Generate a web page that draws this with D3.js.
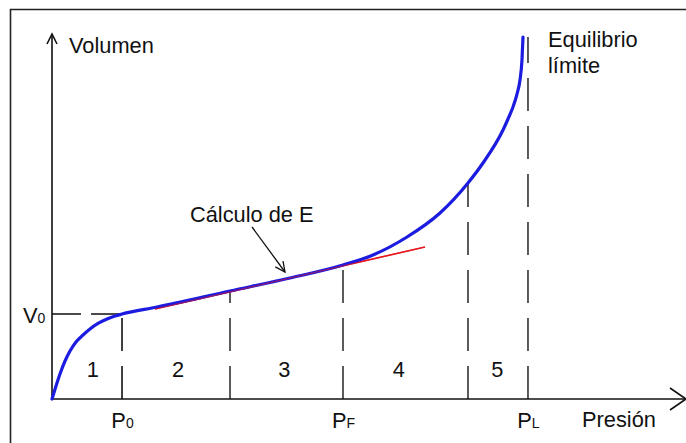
<!DOCTYPE html>
<html>
<head>
<meta charset="utf-8">
<script src="https://cdn.jsdelivr.net/npm/d3@7"></script>
<style>
  html, body { margin: 0; padding: 0; background: #fff; }
  svg { display: block; }
  text { font-family: "Liberation Sans", Arial, sans-serif; fill: #111; }
</style>
</head>
<body>
<svg id="chart" width="686" height="443"></svg>
<script>
// ---- data (abstract units: pressure 0..100, volume 0..100) ----
const curveP = [0, 0.67, 1.33, 2.17, 3.0, 4.0, 5.17, 6.33, 7.67, 9.17, 10.5, 11.67, 17.5, 29.67, 39.67, 48.5, 53.5, 59.17, 64.67, 69.33, 71.83, 75.17, 76.0, 76.83, 77.5, 78.0, 78.33, 78.5];
const curveV = [0, 3.59, 6.91, 10.50, 13.26, 15.75, 17.68, 19.34, 20.86, 22.10, 22.93, 23.48, 25.41, 29.83, 33.43, 37.02, 39.78, 44.75, 51.38, 59.67, 65.19, 74.31, 77.35, 80.66, 84.25, 88.12, 93.65, 100];
const tangentP = [17.17, 62.17];
const tangentV = [24.86, 41.99];
const boundaryP = [11.67, 29.67, 48.5, 69.33, 79.33];
const boundaryTopV = [23.48, 29.83, 37.02, 59.67, 100];
const V0 = 23.48;
const regionLabels = ["1", "2", "3", "4", "5"];
const regionLabelP = [6.8, 21, 38.7, 57.8, 74.2];
const tickP = [11.67, 48.5, 79.33];
const tickMain = ["P", "P", "P"];
const tickSub = ["0", "F", "L"];

const FS = "21.8px";
const svg = d3.select("#chart");
const x = d3.scaleLinear().domain([0, 100]).range([52, 652]);
const y = d3.scaleLinear().domain([0, 100]).range([399, 37]);

// frame
svg.append("path")
  .attr("d", "M686,9.5H10.5V443")
  .attr("fill", "none").attr("stroke", "#222").attr("stroke-width", 1.6);

// dashed verticals (drawn from bottom upward)
boundaryP.forEach((p, i) => {
  svg.append("line")
    .attr("x1", x(p)).attr("x2", x(p))
    .attr("y1", y(0)).attr("y2", y(boundaryTopV[i]))
    .attr("stroke", i === 0 ? "#111" : "#333")
    .attr("stroke-width", 1.6)
    .attr("stroke-dasharray", "33,15");
});

// dashed horizontal at V0
svg.append("line")
  .attr("x1", x(0)).attr("x2", x(boundaryP[0]))
  .attr("y1", y(V0)).attr("y2", y(V0))
  .attr("stroke", "#111").attr("stroke-width", 1.6)
  .attr("stroke-dasharray", "29,10");

// axes
svg.append("line").attr("x1", x(0)).attr("y1", y(0)).attr("x2", x(0)).attr("y2", 34)
  .attr("stroke", "#111").attr("stroke-width", 1.6);
svg.append("path").attr("d", `M${x(0)-5},44L${x(0)},34L${x(0)+5},44`)
  .attr("fill", "none").attr("stroke", "#111").attr("stroke-width", 1.6);
svg.append("line").attr("x1", x(0)).attr("y1", y(0)).attr("x2", 686).attr("y2", y(0))
  .attr("stroke", "#111").attr("stroke-width", 1.6);
svg.append("path").attr("d", `M670,${y(0)-11}L686,${y(0)}L670,${y(0)+11}`)
  .attr("fill", "none").attr("stroke", "#111").attr("stroke-width", 1.6);

// x tick labels via d3 axis
const xAxis = d3.axisBottom(x).tickValues(tickP).tickSize(0).tickFormat("");
const gx = svg.append("g").attr("transform", `translate(0,${y(0)})`).call(xAxis);
gx.select(".domain").remove();
gx.selectAll(".tick").each(function(d, i) {
  const t = d3.select(this).append("text")
    .attr("y", 29).attr("text-anchor", "middle")
    .style("font-size", FS).attr("fill", "#111")
    .style("font-family", "'Liberation Sans', Arial, sans-serif");
  t.append("tspan").text(tickMain[i]);
  t.append("tspan").style("font-size", "14px").text(tickSub[i]);
});

// y label V0
const tv = svg.append("text").attr("x", 23).attr("y", y(V0) + 9)
  .style("font-size", FS);
tv.append("tspan").text("V");
tv.append("tspan").style("font-size", "14px").text("0");

// region labels
svg.selectAll(".region").data(regionLabels).enter().append("text")
  .attr("class", "region")
  .attr("x", (d, i) => x(regionLabelP[i]))
  .attr("y", 377).attr("text-anchor", "middle")
  .style("font-size", FS).text(d => d);

// curve
const pts = curveP.map((p, i) => [p, curveV[i]]);
const line = d3.line().x(d => x(d[0])).y(d => y(d[1])).curve(d3.curveMonotoneX);

// tangent
svg.append("line")
  .attr("x1", x(tangentP[0])).attr("y1", y(tangentV[0]))
  .attr("x2", x(tangentP[1])).attr("y2", y(tangentV[1]))
  .attr("stroke", "#e8141c").attr("stroke-width", 1.6);

svg.append("path").datum(pts).attr("d", line)
  .attr("fill", "none").attr("stroke", "#1c1ce0").attr("stroke-width", 3.2)
  .attr("stroke-linecap", "round");

svg.append("line")
  .attr("x1", x(tangentP[0])).attr("y1", y(tangentV[0]))
  .attr("x2", x(tangentP[1])).attr("y2", y(tangentV[1]))
  .attr("stroke", "#e8141c").attr("stroke-width", 1.2).attr("opacity", 0.55);

// callout
svg.append("text").attr("x", 190).attr("y", 222).style("font-size", FS).text("Cálculo de E");
const ax1 = 252, ay1 = 227, ax2 = 285, ay2 = 272;
svg.append("line").attr("x1", ax1).attr("y1", ay1).attr("x2", ax2).attr("y2", ay2)
  .attr("stroke", "#111").attr("stroke-width", 1.3);
{
  const ang = Math.atan2(ay2 - ay1, ax2 - ax1);
  const L = 11, sp = 0.45;
  const p1 = [ax2 - L * Math.cos(ang - sp), ay2 - L * Math.sin(ang - sp)];
  const p2 = [ax2 - L * Math.cos(ang + sp), ay2 - L * Math.sin(ang + sp)];
  svg.append("path").attr("d", `M${p1}L${ax2},${ay2}L${p2}`)
    .attr("fill", "none").attr("stroke", "#111").attr("stroke-width", 1.3);
}

// other labels
svg.append("text").attr("x", 69).attr("y", 53).style("font-size", FS).text("Volumen");
svg.append("text").attr("x", 548).attr("y", 47).style("font-size", FS).text("Equilibrio");
svg.append("text").attr("x", 548).attr("y", 73).style("font-size", FS).text("límite");
svg.append("text").attr("x", 582).attr("y", 427).style("font-size", FS).text("Presión");
</script>
</body>
</html>
